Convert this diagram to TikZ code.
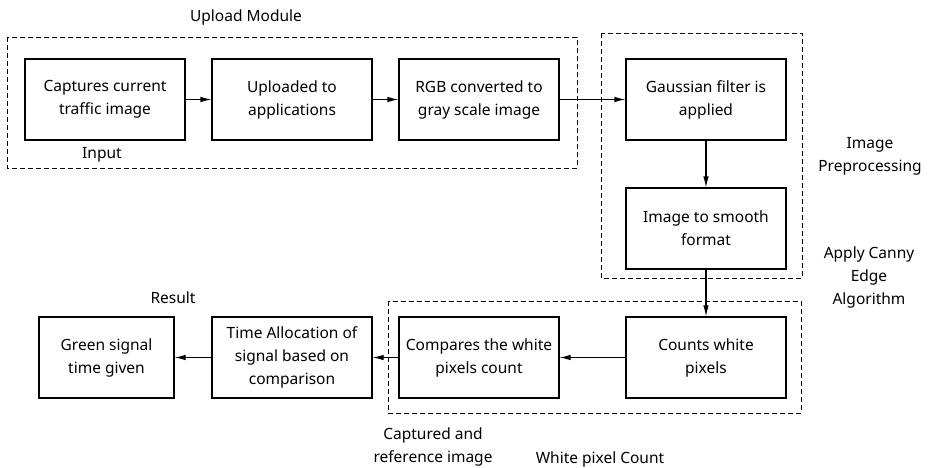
\documentclass[tikz,border=0pt]{standalone}
\usepackage{fontspec}
\setmainfont{Noto Sans}
\usepackage{tikz}
\usetikzlibrary{shapes,arrows.meta}
\usetikzlibrary{positioning}

\tikzset{
  stepbox/.style={draw, line width=1.1pt, minimum width=160pt, minimum height=81pt,
    align=center, inner sep=2pt},
  groupbox/.style={draw, dashed, line width=0.9pt, dash pattern=on 5pt off 3pt},
  flow/.style={->, line width=1.1pt, >={Latex[length=11pt,width=5.5pt]}},
  tag/.style={align=center}
}

\begin{document}
\begin{tikzpicture}[x=1pt, y=-1pt, font=\fontsize{15.5}{23}\selectfont]
			\useasboundingbox (0,0) rectangle (936,468);
			% upper row
			\node[stepbox] (capture) at (105,99.5) {Captures current\\traffic image};
			\node[stepbox] (upload) at (292,99.5) {Uploaded to\\applications};
			\node[stepbox] (gray) at (479,99.5) {RGB converted to\\gray scale image};
			\node[stepbox] (gauss) at (706,99.5) {Gaussian filter is\\applied};
			\node[stepbox] (smooth) at (706,228.5) {Image to smooth\\format};
			% lower row
			\node[stepbox] (count) at (706,357.5) {Counts white\\pixels};
			\node[stepbox] (compare) at (479,357.5) {Compares the white\\pixels count};
			\node[stepbox] (alloc) at (292,357.5) {Time Allocation of\\signal based on\\comparison};
			\node[stepbox, minimum width=135pt] (green) at (106.5,357.5) {Green signal\\time given};
			% dashed groups
			\draw[groupbox] (7,37) rectangle (577,168);
			\draw[groupbox] (601,33) rectangle (802,278);
			\draw[groupbox] (388,301) rectangle (801,413);
			% labels
			\node[tag] (lupload) at (246,17) {Upload Module};
			\node[tag] (linput) at (102,155) {Input};
			\node[tag] (lpre) at (870,156) {Image\\Preprocessing};
			\node[tag] (lcanny) at (869,277) {Apply Canny\\Edge\\Algorithm};
			\node[tag] (lresult) at (173,298) {Result};
			\node[tag] (lcaptured) at (433,447) {Captured and\\reference image};
			\node[tag] (lwhite) at (600,459) {White pixel Count};
			% connectors
			\draw[flow] (capture) -- (upload);
			\draw[flow] (upload) -- (gray);
			\draw[flow] (gray) -- (gauss);
			\draw[flow] (gauss) -- (smooth);
			\draw[flow] (smooth) -- (count);
			\draw[flow] (count) -- (compare);
			\draw[flow] (compare) -- (alloc);
			\draw[flow] (alloc) -- (green);
\end{tikzpicture}
\end{document}
